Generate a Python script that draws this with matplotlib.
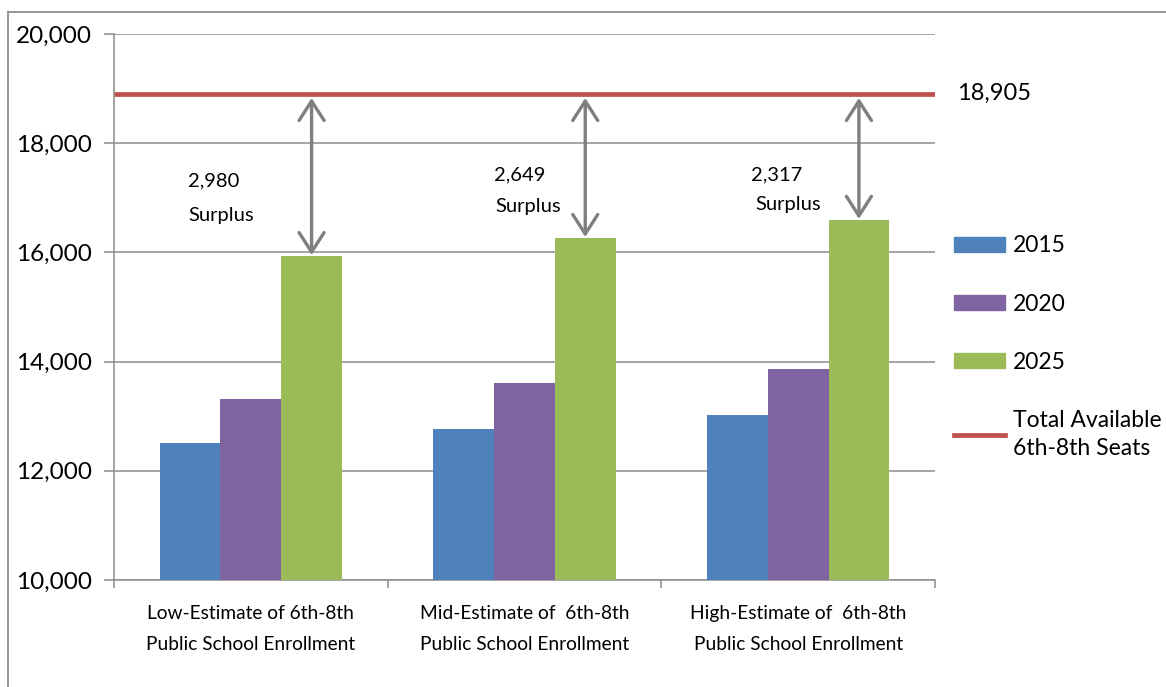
import matplotlib
matplotlib.use("Agg")
import matplotlib.pyplot as plt
from matplotlib.patches import Patch
from matplotlib.lines import Line2D
import numpy as np

plt.rcParams['font.family'] = ['Lato', 'DejaVu Sans']

# Enrollment projections by estimate scenario
categories = ["Low-Estimate of 6th-8th\nPublic School Enrollment",
              "Mid-Estimate of  6th-8th\nPublic School Enrollment",
              "High-Estimate of  6th-8th\nPublic School Enrollment"]
years = ["2015", "2020", "2025"]
enroll_2015 = [12510, 12765, 13020]
enroll_2020 = [13315, 13605, 13865]
enroll_2025 = [15925, 16256, 16588]
total_seats = 18905
seats_label = "Total Available\n6th-8th Seats"
y_ticks = [10000, 12000, 14000, 16000, 18000, 20000]

colors = ["#4F81BD", "#8064A2", "#9BBB59"]
seat_color = "#C0504D"
grid_color = "#8C8C8C"
arrow_color = "#7F7F7F"

W, H = 1166, 687
fig = plt.figure(figsize=(W / 100, H / 100), dpi=100)
ax = fig.add_axes([114 / W, 1 - 580 / H, (935 - 114) / W, (580 - 34) / H])

# Outer chart frame (runs off the right and bottom edges)
fig.add_artist(Line2D([8 / W, 8 / W], [-0.1, 1 - 12 / H], transform=fig.transFigure,
                      color=grid_color, lw=1.3))
fig.add_artist(Line2D([8 / W, 1.1], [1 - 12 / H, 1 - 12 / H], transform=fig.transFigure,
                      color=grid_color, lw=1.3))

x = np.arange(len(categories))
bw = 0.222
series = [enroll_2015, enroll_2020, enroll_2025]
for i, (vals, c) in enumerate(zip(series, colors)):
    ax.bar(x + (i - 1) * bw, vals, width=bw, color=c, zorder=3, label=years[i])

ax.axhline(total_seats, color=seat_color, lw=3.4, zorder=4, solid_capstyle='butt')

ax.set_xlim(-0.5, len(categories) - 0.5)
ax.set_ylim(10000, 20000)
ax.set_yticks(y_ticks)
ax.set_yticklabels([f"{v:,}" for v in y_ticks], fontsize=17.5)
ax.yaxis.grid(True, color=grid_color, lw=1.1, zorder=0)
ax.set_xticks(x)
ax.set_xticklabels(categories, fontsize=13.8, linespacing=2.0)
ax.set_xticks(np.arange(len(categories) + 1) - 0.5, minor=True)
ax.tick_params(axis='x', which='major', length=0, pad=18)
ax.tick_params(axis='x', which='minor', length=6, color=grid_color, width=1.1, direction='out')
ax.tick_params(axis='y', length=7, color=grid_color, width=1.1, pad=9)
for s in ['top', 'right']:
    ax.spines[s].set_visible(False)
for s in ['left', 'bottom']:
    ax.spines[s].set_color(grid_color)
    ax.spines[s].set_linewidth(1.1)

# Surplus arrows between the 2025 bars and available seats
surplus_pos = [(-0.137, 17308, -0.108, 16667),
               (0.983, 17418, 1.013, 16832),
               (1.921, 17418, 1.962, 16886)]
for xi, v, (nx, ny, sx, sy) in zip(x, enroll_2025, surplus_pos):
    bx = xi + bw
    ax.annotate('', xy=(bx, total_seats), xytext=(bx, v),
                arrowprops=dict(arrowstyle='<->,head_length=0.7,head_width=0.45',
                                color=arrow_color, lw=2.4, shrinkA=1, shrinkB=3,
                                mutation_scale=20), zorder=5)
    ax.text(nx, ny, f"{total_seats - v:,}", ha='center', va='center', fontsize=14.5)
    ax.text(sx, sy, "Surplus", ha='center', va='center', fontsize=14.5)

ax.text((957 - 114) / (935 - 114), total_seats, f"{total_seats:,}",
        transform=ax.get_yaxis_transform(), ha='left', va='center', fontsize=17)

handles = [Patch(color=c) for c in colors] + [Line2D([], [], color=seat_color, lw=3.4)]
labels = years + [seats_label]
leg = fig.legend(handles, labels, loc='upper left', bbox_to_anchor=(943 / W, 1 - 224 / H),
                 frameon=False, fontsize=16.5, borderpad=0, labelspacing=1.62,
                 handlelength=2.2, handleheight=0.65, handletextpad=0.35)
leg.get_texts()[-1].set_linespacing(1.45)

fig.savefig("out.png", dpi=100)
